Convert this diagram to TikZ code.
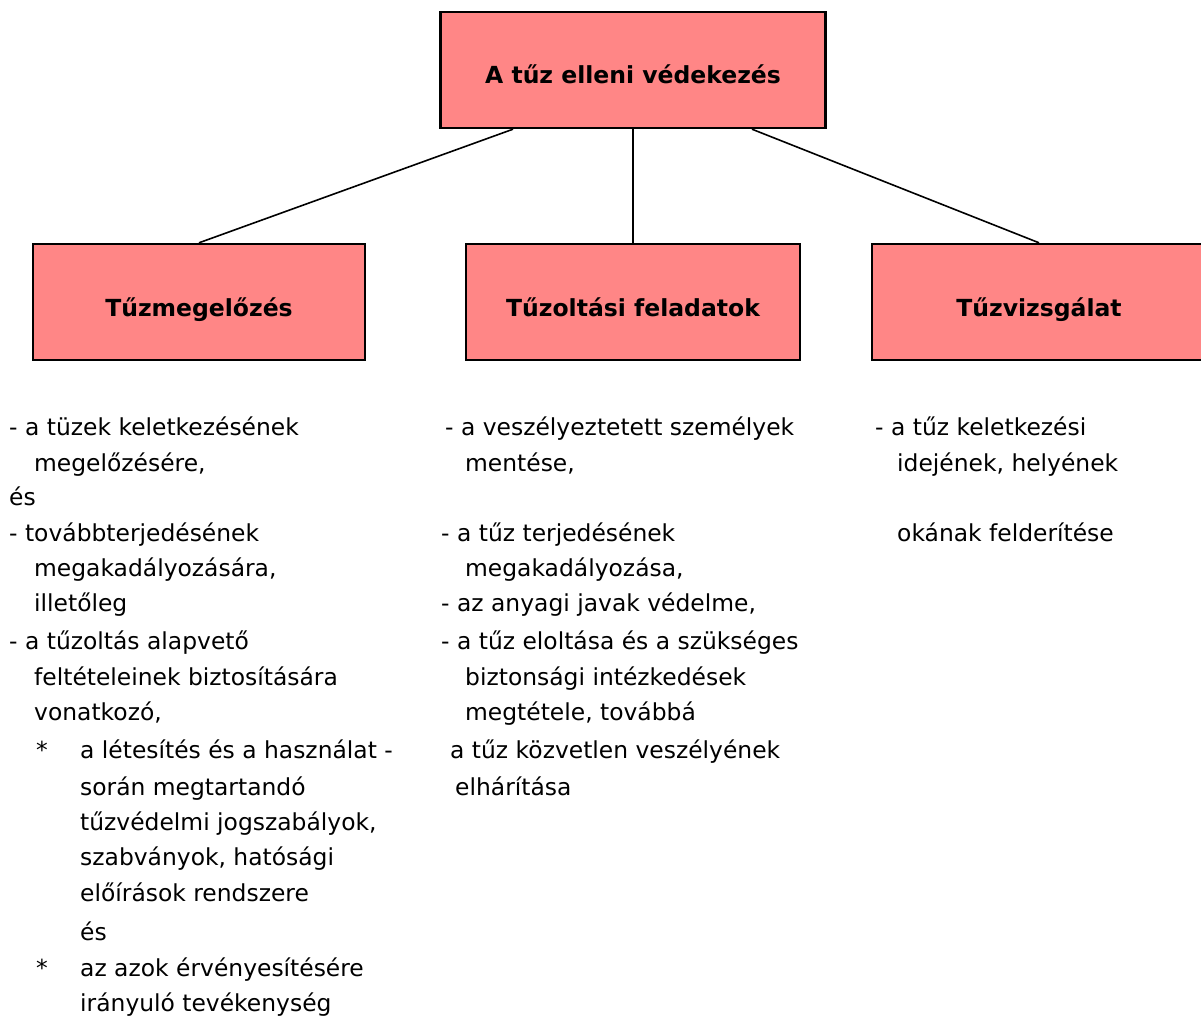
\documentclass[tikz,border=0pt]{standalone}
\usepackage{fontspec}
\setmainfont{DejaVu Sans}
\usetikzlibrary{positioning}
\definecolor{boxred}{RGB}{255,134,134}

\begin{document}
\begin{tikzpicture}[x=1pt, y=-1pt,
    box/.style={draw, line width=2.4pt, fill=boxred, minimum width=334pt,
        minimum height=116pt, inner sep=0pt, text height=28pt, text depth=0pt,
        font=\fontsize{23.5}{28}\selectfont\bfseries},
    item/.style={anchor=base west, inner sep=0pt,
        font=\fontsize{23.4}{28}\selectfont},
    conn/.style={line width=1.6pt}]

    \useasboundingbox (0,0) rectangle (1201,1019);

    % boxes
    \node[box, minimum width=385pt] (root) at (633,70) {A tűz elleni védekezés};
    \node[box, minimum width=332pt] (prev) at (199,302) {Tűzmegelőzés};
    \node[box] (ops) at (633,302) {Tűzoltási feladatok};
    \node[box] (inv) at (1039,302) {Tűzvizsgálat};

    \draw[conn] ([xshift=-120pt]root.south) -- (prev.north);
    \draw[conn] (root.south) -- (ops.north);
    \draw[conn] ([xshift=119pt]root.south) -- (inv.north);

    % left column
    \foreach \n/\x/\y/\t in {
        1/9/435/{- a tüzek keletkezésének},
        2/34/471/{megelőzésére,},
        3/9/505/{és},
        4/9/541/{- továbbterjedésének},
        5/34/576/{megakadályozására,},
        6/34/611/{illetőleg},
        7/9/649/{- a tűzoltás alapvető},
        8/34/685/{feltételeinek biztosítására},
        9/34/720/{vonatkozó,},
        10/80/758/{a létesítés és a használat -},
        11/80/795/{során megtartandó},
        12/80/830/{tűzvédelmi jogszabályok,},
        13/80/865/{szabványok, hatósági},
        14/80/901/{előírások rendszere},
        15/80/940/{és},
        16/80/976/{az azok érvényesítésére},
        17/80/1011/{irányuló tevékenység}}
        \node[item] (l\n) at (\x,\y) {\t};
    \node[item] (s1) at (36,758) {*};
    \node[item] (s2) at (36,976) {*};

    % middle column
    \foreach \n/\x/\y/\t in {
        1/445/435/{- a veszélyeztetett személyek},
        2/465/471/{mentése,},
        3/441/541/{- a tűz terjedésének},
        4/465/576/{megakadályozása,},
        5/441/611/{- az anyagi javak védelme,},
        6/441/649/{- a tűz eloltása és a szükséges},
        7/465/685/{biztonsági intézkedések},
        8/465/720/{megtétele, továbbá},
        9/450/758/{a tűz közvetlen veszélyének},
        10/455/795/{elhárítása}}
        \node[item] (m\n) at (\x,\y) {\t};

    % right column
    \foreach \n/\x/\y/\t in {
        1/875/435/{- a tűz keletkezési},
        2/897/471/{idejének, helyének},
        3/897/541/{okának felderítése}}
        \node[item] (r\n) at (\x,\y) {\t};

\end{tikzpicture}
\end{document}
